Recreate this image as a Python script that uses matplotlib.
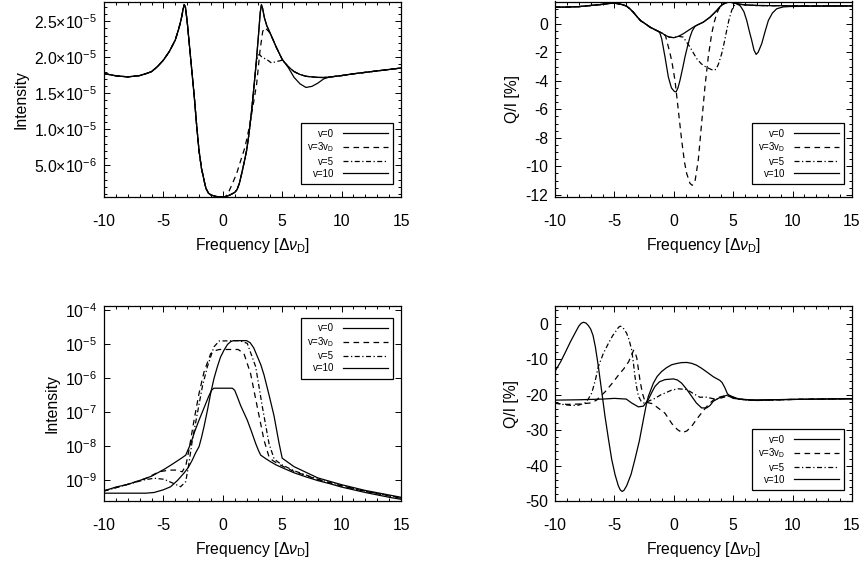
import numpy as np
import matplotlib
matplotlib.use("Agg")
import matplotlib.pyplot as plt
from matplotlib.ticker import MultipleLocator, AutoMinorLocator, FuncFormatter, LogLocator, NullLocator

plt.rcParams['font.family'] = ['Liberation Sans', 'DejaVu Sans']
plt.rcParams['mathtext.fontset'] = 'custom'
plt.rcParams['mathtext.rm'] = 'Liberation Sans'
plt.rcParams['mathtext.it'] = 'Liberation Sans:italic'
plt.rcParams['mathtext.default'] = 'regular'
plt.rcParams['axes.unicode_minus'] = False

labels = ["v=0", "v=3v$_{\\rm D}$", "v=5", "v=10"]

# ---------------- Top-left: Intensity (units of 1e-5) ----------------
tl_common_x = [-10, -9, -8, -7, -6.5, -6, -5.5, -5, -4.5, -4, -3.7, -3.5, -3.35, -3.25, -3.15, -3.0, -2.8, -2.6,
               -2.4, -2.2, -2.0, -1.8, -1.5, -1.4, -1.2, -1.0, -0.6, -0.2, 0.2]
tl_common_y = [1.773, 1.742, 1.727, 1.745, 1.77, 1.80, 1.87, 1.96, 2.08, 2.24, 2.40, 2.53, 2.66, 2.73, 2.70, 2.50,
               2.15, 1.80, 1.45, 1.05, 0.70, 0.46, 0.23, 0.17, 0.11, 0.085, 0.065, 0.058, 0.058]
tl_v0_x = [0.6, 1.0, 1.2, 1.4, 1.6, 1.8, 2.0, 2.2, 2.4, 2.6, 2.8, 3.0, 3.15, 3.25, 3.35, 3.5, 3.7, 4.0, 4.5, 5.0,
           5.5, 6.0, 6.5, 7.0, 7.5, 8.0, 8.5, 9.0, 10, 11, 12, 13, 14, 15]
tl_v0_y = [0.085, 0.12, 0.16, 0.25, 0.39, 0.54, 0.70, 0.93, 1.22, 1.55, 1.90, 2.30, 2.62, 2.73, 2.68, 2.55, 2.44,
           2.33, 2.14, 1.97, 1.87, 1.80, 1.76, 1.735, 1.727, 1.72, 1.718, 1.725, 1.745, 1.77, 1.79, 1.81, 1.83, 1.85]
tl_v3_x = [0.47, 0.8, 1.17, 1.5, 1.87, 2.29, 2.6, 2.85, 3.13, 3.36, 3.55, 3.8, 4.0, 4.5, 5.0]
tl_v3_y = [0.118, 0.24, 0.385, 0.56, 0.75, 1.075, 1.38, 1.63, 2.09, 2.36, 2.41, 2.37, 2.33, 2.14, 1.97]
tl_v5_x = [2.8, 2.95, 3.07, 3.3, 3.69, 4.1, 4.5, 4.8, 5.0]
tl_v5_y = [1.90, 2.02, 2.04, 2.00, 1.97, 1.92, 1.94, 1.95, 1.96]
tl_v10_x = [5.5, 6.0, 6.5, 7.0, 7.5, 8.0, 8.5, 9.0]
tl_v10_y = [1.86, 1.72, 1.63, 1.58, 1.595, 1.64, 1.70, 1.725]

# ---------------- Top-right: Q/I [%] ----------------
tr_common_x = [-10, -9, -8, -7, -6, -5.5, -5, -4.5, -4.0, -3.7, -3.4, -3.1, -2.8, -2.4, -2.0, -1.5, -1.2]
tr_common_y = [1.16, 1.17, 1.20, 1.28, 1.36, 1.42, 1.44, 1.38, 1.25, 1.05, 0.80, 0.50, 0.22, 0.0, -0.24, -0.45, -0.58]
tr_env_x = [-1.0, -0.7, -0.4, 0.0, 0.4, 0.8, 1.2, 1.64, 2.0, 2.48, 3.05, 3.4, 3.61, 3.9, 4.17, 4.5, 4.73]
tr_env_y = [-0.65, -0.82, -0.93, -0.98, -0.88, -0.70, -0.48, -0.24, -0.08, 0.11, 0.46, 0.75, 0.93, 1.20, 1.40,
            1.50, 1.51]
tr_tail_x = [5.0, 5.5, 6.0, 7.0, 8.0, 10, 12, 15]
tr_tail_y = [1.47, 1.38, 1.32, 1.28, 1.27, 1.26, 1.25, 1.25]
tr_v0_x = [-1.02, -0.74, -0.46, -0.2, 0.05, 0.19, 0.35, 0.52, 0.75, 0.94, 1.15, 1.36, 1.55, 1.78, 2.0]
tr_v0_y = [-1.05, -2.33, -3.73, -4.5, -4.75, -4.78, -4.5, -3.97, -3.1, -2.33, -1.6, -0.94, -0.5, -0.18, -0.08]
tr_v3_x = [-0.6, -0.4, -0.18, 0.10, 0.38, 0.66, 0.9, 1.08, 1.36, 1.55, 1.78, 2.06, 2.34, 2.62, 2.90, 3.19, 3.4,
           3.61, 3.8, 4.03, 4.3, 4.5, 4.73]
tr_v3_y = [-1.17, -1.8, -2.57, -3.97, -6.06, -8.16, -9.7, -10.49, -11.19, -11.33, -11.08, -9.56, -7.0, -4.43,
           -2.33, -0.70, 0.10, 0.70, 1.05, 1.28, 1.43, 1.49, 1.51]
tr_v5_x = [0.8, 1.0, 1.36, 1.65, 1.93, 2.3, 2.62, 3.0, 3.33, 3.55, 3.75, 4.03, 4.25, 4.45, 4.65, 4.87, 5.05, 5.29,
           5.6, 6.0]
tr_v5_y = [-0.94, -1.2, -1.63, -2.05, -2.45, -2.8, -2.99, -3.15, -3.27, -3.2, -2.85, -2.1, -1.3, -0.47, 0.3, 0.93,
           1.25, 1.40, 1.36, 1.32]
tr_v10_x = [5.0, 5.3, 5.6, 5.9, 6.14, 6.35, 6.56, 6.75, 6.93, 7.1, 7.4, 7.7, 7.96, 8.3, 8.66, 9.2, 9.8, 11, 13, 15]
tr_v10_y = [1.48, 1.40, 1.25, 0.85, 0.23, -0.5, -1.17, -1.85, -2.15, -2.0, -1.4, -0.5, 0.23, 0.75, 1.05, 1.18,
            1.21, 1.22, 1.24, 1.25]

# ---------------- Bottom-left: Intensity (log10) ----------------
bl_v0_x = [-10, -9, -8, -7.19, -6, -4.95, -4.4, -3.83, -3.4, -3.12, -2.95, -2.7, -2.35, -2.0, -1.5, -1.2, -0.95,
           -0.75, 0.8, 1.0, 1.22, 1.5, 2.06, 2.4, 2.77, 3.0, 3.19, 3.6, 4.0, 4.5, 5, 6, 7, 8, 9, 10, 11, 12, 13,
           14, 15]
bl_v0_ly = [-9.31, -9.2, -9.12, -9.03, -8.88, -8.68, -8.56, -8.43, -8.33, -8.26, -8.12, -7.92, -7.55, -7.23, -6.8,
            -6.54, -6.35, -6.29, -6.29, -6.35, -6.54, -6.8, -7.23, -7.55, -7.92, -8.12, -8.26, -8.36, -8.45,
            -8.55, -8.63, -8.78, -8.90, -9.01, -9.10, -9.20, -9.28, -9.36, -9.43, -9.50, -9.56]
bl_v3_x = [-10, -8, -6.5, -5.37, -4.5, -3.97, -3.41, -3.1, -2.85, -2.42, -2.0, -1.58, -1.02, -0.6, -0.3, 1.3,
           1.78, 2.34, 2.9, 3.47, 3.89, 4.2, 5, 6, 8, 10, 12, 15]
bl_v3_ly = [-9.31, -9.12, -8.95, -8.75, -8.70, -8.70, -8.75, -8.55, -8.11, -7.23, -6.44, -5.81, -5.27, -5.18,
            -5.15, -5.15, -5.27, -5.86, -6.84, -7.82, -8.31, -8.42, -8.58, -8.74, -8.98, -9.17, -9.33, -9.53]
bl_v5_x = [-10, -8, -6.63, -5.79, -4.95, -4.1, -3.55, -3.12, -2.85, -2.56, -2.14, -1.72, -1.3, -0.74, -0.3, 1.4,
           2.06, 2.77, 3.33, 3.89, 4.31, 4.6, 5, 6, 8, 10, 12, 15]
bl_v5_ly = [-9.32, -9.12, -8.99, -8.94, -8.97, -9.10, -9.19, -9.04, -8.50, -7.81, -7.03, -6.24, -5.66, -5.07,
            -4.90, -4.89, -4.97, -5.66, -6.84, -7.92, -8.36, -8.45, -8.55, -8.72, -8.97, -9.16, -9.32, -9.52]
bl_v10_x = [-10, -8, -6.5, -5.79, -5.0, -4.39, -3.8, -3.27, -2.9, -2.56, -2.3, -2.0, -1.8, -1.58, -1.3, -1.02,
            -0.74, -0.46, -0.2, 0.1, 0.4, 0.66, 0.9, 2.0, 2.3, 2.6, 2.9, 3.2, 3.47, 3.9, 4.31, 4.73, 5.0, 6, 8,
            10, 12, 15]
bl_v10_ly = [-9.38, -9.38, -9.38, -9.36, -9.28, -9.19, -9.0, -8.79, -8.62, -8.40, -8.2, -8.01, -7.75, -7.42,
             -6.95, -6.44, -6.0, -5.66, -5.38, -5.17, -5.0, -4.92, -4.89, -4.89, -4.95, -5.1, -5.35, -5.6, -5.9,
             -6.5, -7.1, -7.9, -8.35, -8.6, -8.93, -9.13, -9.30, -9.50]

# ---------------- Bottom-right: Q/I [%] ----------------
br_v0_x = [-10, -8, -6, -5, -4, -3.55, -2.98, -2.56, -2.14, -1.85, -1.58, -1.2, -0.74, -0.04, 0.3, 0.66, 1.1,
           1.5, 1.9, 2.34, 2.77, 3.05, 3.33, 3.8, 4.3, 4.6, 5.0, 5.5, 6.5, 8, 10, 15]
br_v0_y = [-21.5, -21.4, -21.2, -21.0, -21.2, -22.3, -23.4, -23.2, -21.3, -19.3, -17.6, -16.3, -15.7, -15.5,
           -15.8, -16.7, -18.5, -20.4, -22.3, -23.7, -23.7, -23.0, -21.8, -20.9, -20.3, -20.0, -20.6, -21.2,
           -21.5, -21.4, -21.3, -21.1]
br_v3_x = [-10, -9, -8, -7, -6.5, -5.77, -5.2, -4.65, -4.2, -3.81, -3.55, -3.39, -3.25, -3.11, -2.97, -2.83,
           -2.62, -2.41, -2.2, -1.8, -1.29, -0.74, -0.15, 0.3, 0.7, 1.1, 1.5, 1.9, 2.34, 2.7, 3.05, 3.5, 4.0, 4.4,
           4.8, 5.2, 6, 7, 8, 10, 15]
br_v3_y = [-22.4, -22.7, -22.6, -22.3, -21.5, -19.1, -16.8, -14.4, -12.6, -10.7, -8.8, -7.4, -8.0, -9.7, -13.0,
           -16.3, -19.8, -22.0, -22.2, -22.5, -23.8, -25.2, -28.2, -29.8, -30.7, -30.2, -28.9, -27.0, -25.1,
           -23.6, -22.3, -21.0, -20.5, -20.2, -20.6, -21.1, -21.4, -21.6, -21.5, -21.3, -21.1]
br_v5_x = [-10, -9.2, -8.6, -8, -7.47, -7.2, -6.91, -6.6, -6.35, -5.93, -5.51, -5.15, -4.81, -4.65, -4.5, -4.35,
           -4.2, -3.97, -3.75, -3.55, -3.4, -3.27, -3.12, -2.98, -2.75, -2.56, -2.14, -1.58, -1.1, -0.74, -0.2,
           0.38, 1.08, 1.78, 2.2, 2.65, 3.33, 3.77, 4.3, 4.7, 5.1, 5.5, 6, 7, 8, 10, 15]
br_v5_y = [-22.3, -22.8, -23.0, -22.9, -22.3, -21.2, -19.5, -15.8, -12.0, -8.3, -5.5, -3.3, -1.7, -0.9, -0.6,
           -0.8, -1.4, -2.6, -4.6, -7.3, -11.0, -14.8, -18.0, -20.4, -21.8, -22.3, -21.8, -21.0, -20.0, -19.5,
           -18.7, -18.3, -18.5, -19.9, -20.7, -20.6, -21.1, -21.1, -20.6, -20.3, -20.8, -21.2, -21.4, -21.6,
           -21.5, -21.3, -21.1]
br_v10_x = [-10, -9.5, -9.16, -8.7, -8.32, -8.0, -7.8, -7.6, -7.4, -7.2, -7.0, -6.8, -6.6, -6.35, -6.05, -5.79,
            -5.5, -5.23, -4.95, -4.67, -4.5, -4.35, -4.2, -3.97, -3.6, -3.27, -2.9, -2.56, -2.3, -2.14, -1.9,
            -1.72, -1.4, -1.02, -0.6, -0.18, 0.3, 0.66, 1.1, 1.5, 1.9, 2.34, 2.8, 3.33, 3.87, 4.06, 4.3, 4.5,
            4.71, 4.99, 5.5, 6.4, 7, 8, 10, 12, 15]
br_v10_y = [-13.4, -10.5, -8.2, -5.0, -2.6, -0.6, 0.2, 0.5, 0.3, -0.4, -1.4, -3.2, -6.5, -12.0, -19.5, -26.1,
            -32.5, -38.2, -42.5, -45.7, -46.9, -47.3, -47.0, -45.7, -42.5, -38.2, -33.0, -27.0, -22.5, -20.4,
            -18.3, -16.7, -14.8, -13.4, -12.3, -11.5, -11.1, -10.9, -10.85, -11.1, -11.6, -12.5, -13.6, -14.9,
            -15.9, -16.5, -18.0, -19.6, -20.4, -21.0, -21.2, -21.4, -21.5, -21.4, -21.3, -21.2, -21.1]

# ----------------------------------------------------------------------
W, H = 864, 565
fig = plt.figure(figsize=(W / 100, H / 100), dpi=100)

def ax_rect(l, t, r, b):
    return [l / W, 1 - b / H, (r - l) / W, (b - t) / H]

ax_tl = fig.add_axes(ax_rect(104, 1.5, 401, 197))
ax_tr = fig.add_axes(ax_rect(555, 1.5, 852, 197))
ax_bl = fig.add_axes(ax_rect(104, 306, 401, 501))
ax_br = fig.add_axes(ax_rect(555, 306, 852, 501))

LW = 0.9
styles = [dict(ls='-', lw=LW), dict(ls=(0, (4.5, 3.5)), lw=LW), dict(ls=(0, (4.0, 2.0, 1.0, 2.0)), lw=LW),
          dict(ls='-', lw=LW)]

def cat(*parts):
    xs, ys = [], []
    for px, py in parts:
        xs += list(px)
        ys += list(py)
    return np.array(xs), np.array(ys)

# top-left series (shared sections combined)
v0x_a, v0y_a = np.array(tl_v0_x), np.array(tl_v0_y)
v0x, v0y = cat((tl_common_x, tl_common_y), (tl_v0_x, tl_v0_y))
m = v0x_a > 5.0
v3x, v3y = cat((tl_common_x, tl_common_y), (tl_v3_x, tl_v3_y), (v0x_a[m], v0y_a[m]))
m1 = v0x_a < 2.8
m2 = v0x_a > 5.0
v5x, v5y = cat((tl_common_x, tl_common_y), (v0x_a[m1], v0y_a[m1]), (tl_v5_x, tl_v5_y), (v0x_a[m2], v0y_a[m2]))
m1 = v0x_a < 5.5
m2 = v0x_a > 9.0
v10x, v10y = cat((tl_common_x, tl_common_y), (v0x_a[m1], v0y_a[m1]), (tl_v10_x, tl_v10_y), (v0x_a[m2], v0y_a[m2]))
for (x, y), st, lab in zip([(v0x, v0y), (v3x, v3y), (v5x, v5y), (v10x, v10y)], styles, labels):
    ax_tl.plot(x, y * 1e-5, color='black', label=lab, **st)
ax_tl.set_ylim(0.057e-5, 2.775e-5)

# top-right
env_x, env_y = np.array(tr_env_x), np.array(tr_env_y)
tail_x, tail_y = np.array(tr_tail_x), np.array(tr_tail_y)
t0x, t0y = cat((tr_common_x, tr_common_y), (tr_v0_x, tr_v0_y), (env_x[env_x > 2.0], env_y[env_x > 2.0]),
               (tr_tail_x, tr_tail_y))
t3x, t3y = cat((tr_common_x, tr_common_y), (env_x[env_x < -0.6], env_y[env_x < -0.6]), (tr_v3_x, tr_v3_y),
               (tr_tail_x, tr_tail_y))
t5x, t5y = cat((tr_common_x, tr_common_y), (env_x[env_x < 0.8], env_y[env_x < 0.8]), (tr_v5_x, tr_v5_y),
               (tail_x[tail_x > 6.0], tail_y[tail_x > 6.0]))
t10x, t10y = cat((tr_common_x, tr_common_y), (tr_env_x, tr_env_y), (tr_v10_x, tr_v10_y))
for (x, y), st, lab in zip([(t0x, t0y), (t3x, t3y), (t5x, t5y), (t10x, t10y)], styles, labels):
    ax_tr.plot(x, y, color='black', label=lab, **st)
ax_tr.set_ylim(-12.15, 1.56)

# bottom-left
for (x, y), st, lab in zip([(bl_v0_x, bl_v0_ly), (bl_v3_x, bl_v3_ly), (bl_v5_x, bl_v5_ly),
                            (bl_v10_x, bl_v10_ly)], styles, labels):
    ax_bl.plot(x, 10.0 ** np.array(y), color='black', label=lab, **st)
ax_bl.set_yscale('log')
ax_bl.set_ylim(10 ** -9.61, 10 ** -3.87)

# bottom-right
for (x, y), st, lab in zip([(br_v0_x, br_v0_y), (br_v3_x, br_v3_y), (br_v5_x, br_v5_y),
                            (br_v10_x, br_v10_y)], styles, labels):
    ax_br.plot(x, y, color='black', label=lab, **st)
ax_br.set_ylim(-50, 5.1)

FS = 11.3
for ax in (ax_tl, ax_tr, ax_bl, ax_br):
    ax.set_xlim(-10, 15)
    ax.xaxis.set_major_locator(MultipleLocator(5))
    ax.xaxis.set_minor_locator(MultipleLocator(1))
    ax.tick_params(which='both', direction='in', top=True, right=True, width=0.7, labelsize=FS)
    ax.tick_params(axis='x', which='both', pad=12)
    ax.tick_params(axis='y', which='both', pad=5)
    ax.tick_params(which='major', length=4.5)
    ax.tick_params(which='minor', length=2.2)
    for s in ax.spines.values():
        s.set_linewidth(0.9)
    ax.set_xlabel(r"Frequency [$\Delta\mathit{\nu}_{\rm D}$]", fontsize=FS, labelpad=5)

def sci(v, pos):
    if v <= 0:
        return ""
    e = int(np.floor(np.log10(v) + 1e-9))
    m = v / 10 ** e
    return "%.1f×10$^{%d}$" % (m, e)

ax_tl.yaxis.set_major_locator(MultipleLocator(5e-6))
ax_tl.yaxis.set_minor_locator(AutoMinorLocator(5))
ax_tl.yaxis.set_major_formatter(FuncFormatter(sci))
ax_tl.set_ylabel("Intensity", fontsize=FS)

ax_tr.yaxis.set_major_locator(MultipleLocator(2))
ax_tr.yaxis.set_minor_locator(AutoMinorLocator(4))
ax_tr.set_ylabel("Q/I [%]", fontsize=FS)
ax_tr.yaxis.set_major_formatter(FuncFormatter(lambda v, p: "%d" % round(v)))

ax_bl.yaxis.set_major_locator(LogLocator(base=10, numticks=20))
ax_bl.yaxis.set_minor_locator(NullLocator())
ax_bl.set_ylabel("Intensity", fontsize=FS)

ax_br.yaxis.set_major_locator(MultipleLocator(10))
ax_br.yaxis.set_minor_locator(AutoMinorLocator(5))
ax_br.set_ylabel("Q/I [%]", fontsize=FS)
ax_br.yaxis.set_major_formatter(FuncFormatter(lambda v, p: "%d" % round(v)))

leg_kw = dict(markerfirst=False, fontsize=7, handlelength=4.6, handletextpad=0.9, labelspacing=0.22,
              borderpad=0.55, borderaxespad=0.0, frameon=True, fancybox=False, edgecolor='black', framealpha=1)
for ax, loc, anchor in [(ax_tl, 'lower right', (0.973, 0.066)), (ax_tr, 'lower right', (0.973, 0.066)),
                        (ax_bl, 'upper right', (0.973, 0.94)), (ax_br, 'lower right', (0.973, 0.056))]:
    l = ax.legend(loc=loc, bbox_to_anchor=anchor, **leg_kw)
    l.get_frame().set_linewidth(0.9)

fig.savefig("out.png", dpi=100)
